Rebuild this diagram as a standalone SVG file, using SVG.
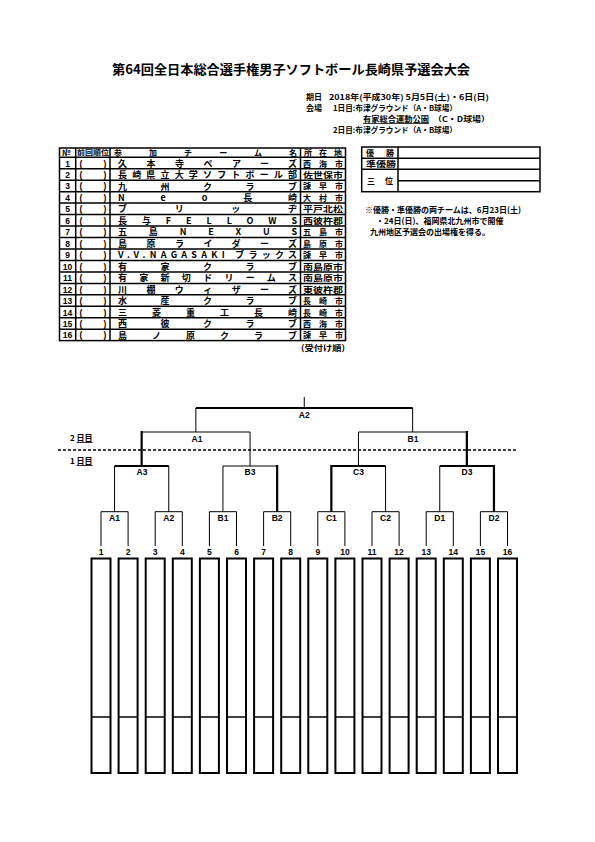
<svg xmlns="http://www.w3.org/2000/svg" width="595" height="842" viewBox="0 0 595 842">
<style>
text{font-family:"Noto Sans CJK JP","Liberation Sans",sans-serif;font-weight:bold;fill:#000}
.t{font-size:13px}
.i{font-size:7.6px}
.r{font-size:9px}
.s{font-size:8px}
.n{font-size:8.5px;text-anchor:middle;font-family:"Liberation Sans","Noto Sans CJK JP",sans-serif}
.lab{font-size:8.5px;text-anchor:middle;font-family:"Liberation Sans",sans-serif}
.ln{stroke:#000;stroke-width:1.5;fill:none}
.th{stroke:#000;stroke-width:1;fill:none}
.tk{stroke:#000;stroke-width:2.2;fill:none}
.box{stroke:#000;stroke-width:2;fill:#fff}
</style>
<rect width="595" height="842" fill="#fff"/>
<g id="title"><text class="t" x="112" y="74" textLength="358" lengthAdjust="spacingAndGlyphs">第64回全日本総合選手権男子ソフトボール長崎県予選会大会</text></g>
<g id="info">
<text class="i" x="306" y="100" textLength="16" lengthAdjust="spacingAndGlyphs">期日</text>
<text class="i" x="329" y="100" textLength="160" lengthAdjust="spacingAndGlyphs">2018年(平成30年) 5月5日(土)・6日(日)</text>
<text class="i" x="306" y="111" textLength="16" lengthAdjust="spacingAndGlyphs">会場</text>
<text class="i" x="333" y="111" textLength="124" lengthAdjust="spacingAndGlyphs">1日目:布津グラウンド（A・B球場）</text>
<text class="i" x="363" y="122" text-decoration="underline" textLength="66" lengthAdjust="spacingAndGlyphs">有家総合運動公園</text>
<text class="i" x="433" y="122" textLength="57" lengthAdjust="spacingAndGlyphs">（C・D球場）</text>
<text class="i" x="333" y="133" textLength="124" lengthAdjust="spacingAndGlyphs">2日目:布津グラウンド（A・B球場）</text>
</g>
<g id="table">
<rect class="ln" x="59.5" y="148" width="286" height="192.6" stroke-width="2"/>
<path class="ln" d="M75.7 148V340.6M110 148V340.6M300.5 148V340.6"/>
<path class="ln" d="M59.5 157.3H345.5M59.5 168.8H345.5M59.5 180.2H345.5M59.5 191.7H345.5M59.5 203.1H345.5M59.5 214.6H345.5M59.5 226.1H345.5M59.5 237.5H345.5M59.5 249H345.5M59.5 260.4H345.5M59.5 271.9H345.5M59.5 283.4H345.5M59.5 294.8H345.5M59.5 306.3H345.5M59.5 317.7H345.5M59.5 329.2H345.5"/>
<text class="s" x="62" y="155.5">№</text>
<text x="77" y="155.3" style="font-size:6.5px" textLength="32" lengthAdjust="spacingAndGlyphs">前回順位</text>
<text class="s" x="114" y="155.5" textLength="183" lengthAdjust="spacing">参加チーム名</text>
<text class="s" x="304" y="155.5" textLength="38" lengthAdjust="spacing">所在地</text>
<g>
<text class="n" x="67.5" y="166.5">1</text><text class="n" x="67.5" y="178">2</text><text class="n" x="67.5" y="189.4">3</text><text class="n" x="67.5" y="200.9">4</text><text class="n" x="67.5" y="212.3">5</text><text class="n" x="67.5" y="223.8">6</text><text class="n" x="67.5" y="235.3">7</text><text class="n" x="67.5" y="246.7">8</text><text class="n" x="67.5" y="258.2">9</text><text class="n" x="67.5" y="269.6">10</text><text class="n" x="67.5" y="281.1">11</text><text class="n" x="67.5" y="292.6">12</text><text class="n" x="67.5" y="304">13</text><text class="n" x="67.5" y="315.5">14</text><text class="n" x="67.5" y="326.9">15</text><text class="n" x="67.5" y="338.4">16</text>
</g>
<g>
<text class="n" x="81" y="166.5">(</text><text class="n" x="105" y="166.5">)</text>
<text class="n" x="81" y="178">(</text><text class="n" x="105" y="178">)</text>
<text class="n" x="81" y="189.4">(</text><text class="n" x="105" y="189.4">)</text>
<text class="n" x="81" y="200.9">(</text><text class="n" x="105" y="200.9">)</text>
<text class="n" x="81" y="212.3">(</text><text class="n" x="105" y="212.3">)</text>
<text class="n" x="81" y="223.8">(</text><text class="n" x="105" y="223.8">)</text>
<text class="n" x="81" y="235.3">(</text><text class="n" x="105" y="235.3">)</text>
<text class="n" x="81" y="246.7">(</text><text class="n" x="105" y="246.7">)</text>
<text class="n" x="81" y="258.2">(</text><text class="n" x="105" y="258.2">)</text>
<text class="n" x="81" y="269.6">(</text><text class="n" x="105" y="269.6">)</text>
<text class="n" x="81" y="281.1">(</text><text class="n" x="105" y="281.1">)</text>
<text class="n" x="81" y="292.6">(</text><text class="n" x="105" y="292.6">)</text>
<text class="n" x="81" y="304">(</text><text class="n" x="105" y="304">)</text>
<text class="n" x="81" y="315.5">(</text><text class="n" x="105" y="315.5">)</text>
<text class="n" x="81" y="326.9">(</text><text class="n" x="105" y="326.9">)</text>
<text class="n" x="81" y="338.4">(</text><text class="n" x="105" y="338.4">)</text>
</g>
<g>
<text class="r" x="118" y="166.6" textLength="179" lengthAdjust="spacing">久本寺ペアーズ</text>
<text class="r" x="118" y="178.1" textLength="179" lengthAdjust="spacing">長崎県立大学ソフトボール部</text>
<text class="r" x="118" y="189.5" textLength="179" lengthAdjust="spacing">九州クラブ</text>
<text class="r" x="118" y="201" textLength="179" lengthAdjust="spacing">Neo長崎</text>
<text class="r" x="118" y="212.4" textLength="179" lengthAdjust="spacing">ブリッヂ</text>
<text class="r" x="118" y="223.9" textLength="179" lengthAdjust="spacing">長与FELLOWS</text>
<text class="r" x="118" y="235.4" textLength="179" lengthAdjust="spacing">五島NEXUS</text>
<text class="r" x="118" y="246.8" textLength="179" lengthAdjust="spacing">島原ライダーズ</text>
<text class="r" x="118" y="258.3" textLength="179" lengthAdjust="spacing">V.V.NAGASAKI ブラックス</text>
<text class="r" x="118" y="269.7" textLength="179" lengthAdjust="spacing">有家クラブ</text>
<text class="r" x="118" y="281.2" textLength="179" lengthAdjust="spacing">有家新切ドリームス</text>
<text class="r" x="118" y="292.7" textLength="179" lengthAdjust="spacing">川棚ウィザーズ</text>
<text class="r" x="118" y="304.1" textLength="179" lengthAdjust="spacing">水産クラブ</text>
<text class="r" x="118" y="315.6" textLength="179" lengthAdjust="spacing">三菱重工長崎</text>
<text class="r" x="118" y="327" textLength="179" lengthAdjust="spacing">西彼クラブ</text>
<text class="r" x="118" y="338.5" textLength="179" lengthAdjust="spacing">島ノ原クラブ</text>
</g>
<g>
<text class="s" x="303" y="166.5" textLength="40" lengthAdjust="spacing">西海市</text>
<text class="s" x="303" y="178" textLength="40" lengthAdjust="spacingAndGlyphs">佐世保市</text>
<text class="s" x="303" y="189.4" textLength="40" lengthAdjust="spacing">諫早市</text>
<text class="s" x="303" y="200.9" textLength="40" lengthAdjust="spacing">大村市</text>
<text class="s" x="303" y="212.3" textLength="40" lengthAdjust="spacingAndGlyphs">平戸北松</text>
<text class="s" x="303" y="223.8" textLength="40" lengthAdjust="spacingAndGlyphs">西彼杵郡</text>
<text class="s" x="303" y="235.3" textLength="40" lengthAdjust="spacing">五島市</text>
<text class="s" x="303" y="246.7" textLength="40" lengthAdjust="spacing">島原市</text>
<text class="s" x="303" y="258.2" textLength="40" lengthAdjust="spacing">諫早市</text>
<text class="s" x="303" y="269.6" textLength="40" lengthAdjust="spacingAndGlyphs">南島原市</text>
<text class="s" x="303" y="281.1" textLength="40" lengthAdjust="spacingAndGlyphs">南島原市</text>
<text class="s" x="303" y="292.6" textLength="40" lengthAdjust="spacingAndGlyphs">東彼杵郡</text>
<text class="s" x="303" y="304" textLength="40" lengthAdjust="spacing">長崎市</text>
<text class="s" x="303" y="315.5" textLength="40" lengthAdjust="spacing">長崎市</text>
<text class="s" x="303" y="326.9" textLength="40" lengthAdjust="spacing">西海市</text>
<text class="s" x="303" y="338.4" textLength="40" lengthAdjust="spacing">諫早市</text>
</g>
<text class="s" x="301" y="350.5" textLength="44" lengthAdjust="spacingAndGlyphs">(受付け順)</text>
</g>
<g id="results">
<rect class="ln" x="361.7" y="147" width="178.3" height="44.7" stroke-width="2"/>
<path class="ln" d="M398 147V191.7M361.7 158.3H540M361.7 169.3H540M398 180.7H540"/>
<text class="s" x="366" y="156">優</text><text class="s" x="386" y="156">勝</text>
<text class="s" x="366" y="167" textLength="30" lengthAdjust="spacingAndGlyphs">準優勝</text>
<text class="s" x="367" y="183.5">三</text><text class="s" x="385" y="183.5">位</text>
</g>
<g id="note">
<text class="s" x="365" y="213">※優勝・準優勝の両チームは、6月23日(土)</text>
<text class="s" x="376" y="224">・24日(日)、福岡県北九州市で開催</text>
<text class="s" x="370" y="235">九州地区予選会の出場権を得る。</text>
</g>
<g id="days">
<text class="s" x="70" y="441">2 <tspan text-decoration="underline">日目</tspan></text>
<line x1="58" y1="450" x2="517" y2="450" stroke="#000" stroke-width="1.5" stroke-dasharray="3,2"/>
<text class="s" x="70" y="464">1 <tspan text-decoration="underline">日目</tspan></text>
</g>
<g id="connectors">
<path class="th" d="M304.25 397V408"/>
<path class="tk" d="M195.85 408H412.65"/>
<path class="th" d="M195.85 408V432M412.65 408V432"/>
<path class="th" d="M141.65 432H250.05M358.45 432H466.85"/>
<path class="tk" d="M141.65 431V466M466.85 431V466"/>
<path class="th" d="M250.05 432V466M358.45 432V466"/>
<path class="tk" d="M114.55 466H168.75M331.35 466H385.55M439.75 466H493.95"/>
<path class="th" d="M222.95 466H277.15"/>
<path class="th" d="M114.55 466V511.7M168.75 466V511.7M222.95 466V511.7M385.55 466V511.7M439.75 466V511.7"/>
<path class="tk" d="M277.15 465V511.7M331.35 465V511.7M493.95 465V511.7"/>
<path class="th" d="M101 511.7H128.1M155.2 511.7H182.3M209.4 511.7H236.5M263.6 511.7H290.7M317.8 511.7H344.9M372 511.7H399.1M426.2 511.7H453.3M480.4 511.7H507.5"/>
<path class="th" d="M101 511.7V546M128.1 511.7V546M155.2 511.7V546M182.3 511.7V546M209.4 511.7V546M236.5 511.7V546M263.6 511.7V546M290.7 511.7V546M317.8 511.7V546M344.9 511.7V546M372 511.7V546M399.1 511.7V546M426.2 511.7V546M453.3 511.7V546M480.4 511.7V546M507.5 511.7V546"/>
</g>
<g id="match-labels">
<text class="lab" x="304.25" y="418">A2</text>
<text class="lab" x="197" y="442">A1</text>
<text class="lab" x="413" y="442">B1</text>
<text class="lab" x="142" y="475">A3</text>
<text class="lab" x="250" y="475">B3</text>
<text class="lab" x="358.5" y="475">C3</text>
<text class="lab" x="467" y="475">D3</text>
<text class="lab" x="114.55" y="521">A1</text>
<text class="lab" x="168.75" y="521">A2</text>
<text class="lab" x="222.95" y="521">B1</text>
<text class="lab" x="277.15" y="521">B2</text>
<text class="lab" x="331.35" y="521">C1</text>
<text class="lab" x="385.55" y="521">C2</text>
<text class="lab" x="439.75" y="521">D1</text>
<text class="lab" x="493.95" y="521">D2</text>
</g>
<g id="teams">
<g id="slot1"><text class="n" x="101" y="555">1</text><rect class="box" x="91.5" y="558.5" width="19" height="214.5"/><line class="ln" x1="91.5" y1="717" x2="110.5" y2="717"/></g>
<g id="slot2"><text class="n" x="128.1" y="555">2</text><rect class="box" x="118.6" y="558.5" width="19" height="214.5"/><line class="ln" x1="118.6" y1="717" x2="137.6" y2="717"/></g>
<g id="slot3"><text class="n" x="155.2" y="555">3</text><rect class="box" x="145.7" y="558.5" width="19" height="214.5"/><line class="ln" x1="145.7" y1="717" x2="164.7" y2="717"/></g>
<g id="slot4"><text class="n" x="182.3" y="555">4</text><rect class="box" x="172.8" y="558.5" width="19" height="214.5"/><line class="ln" x1="172.8" y1="717" x2="191.8" y2="717"/></g>
<g id="slot5"><text class="n" x="209.4" y="555">5</text><rect class="box" x="199.9" y="558.5" width="19" height="214.5"/><line class="ln" x1="199.9" y1="717" x2="218.9" y2="717"/></g>
<g id="slot6"><text class="n" x="236.5" y="555">6</text><rect class="box" x="227" y="558.5" width="19" height="214.5"/><line class="ln" x1="227" y1="717" x2="246" y2="717"/></g>
<g id="slot7"><text class="n" x="263.6" y="555">7</text><rect class="box" x="254.1" y="558.5" width="19" height="214.5"/><line class="ln" x1="254.1" y1="717" x2="273.1" y2="717"/></g>
<g id="slot8"><text class="n" x="290.7" y="555">8</text><rect class="box" x="281.2" y="558.5" width="19" height="214.5"/><line class="ln" x1="281.2" y1="717" x2="300.2" y2="717"/></g>
<g id="slot9"><text class="n" x="317.8" y="555">9</text><rect class="box" x="308.3" y="558.5" width="19" height="214.5"/><line class="ln" x1="308.3" y1="717" x2="327.3" y2="717"/></g>
<g id="slot10"><text class="n" x="344.9" y="555">10</text><rect class="box" x="335.4" y="558.5" width="19" height="214.5"/><line class="ln" x1="335.4" y1="717" x2="354.4" y2="717"/></g>
<g id="slot11"><text class="n" x="372" y="555">11</text><rect class="box" x="362.5" y="558.5" width="19" height="214.5"/><line class="ln" x1="362.5" y1="717" x2="381.5" y2="717"/></g>
<g id="slot12"><text class="n" x="399.1" y="555">12</text><rect class="box" x="389.6" y="558.5" width="19" height="214.5"/><line class="ln" x1="389.6" y1="717" x2="408.6" y2="717"/></g>
<g id="slot13"><text class="n" x="426.2" y="555">13</text><rect class="box" x="416.7" y="558.5" width="19" height="214.5"/><line class="ln" x1="416.7" y1="717" x2="435.7" y2="717"/></g>
<g id="slot14"><text class="n" x="453.3" y="555">14</text><rect class="box" x="443.8" y="558.5" width="19" height="214.5"/><line class="ln" x1="443.8" y1="717" x2="462.8" y2="717"/></g>
<g id="slot15"><text class="n" x="480.4" y="555">15</text><rect class="box" x="470.9" y="558.5" width="19" height="214.5"/><line class="ln" x1="470.9" y1="717" x2="489.9" y2="717"/></g>
<g id="slot16"><text class="n" x="507.5" y="555">16</text><rect class="box" x="498" y="558.5" width="19" height="214.5"/><line class="ln" x1="498" y1="717" x2="517" y2="717"/></g>
</g>
</svg>
